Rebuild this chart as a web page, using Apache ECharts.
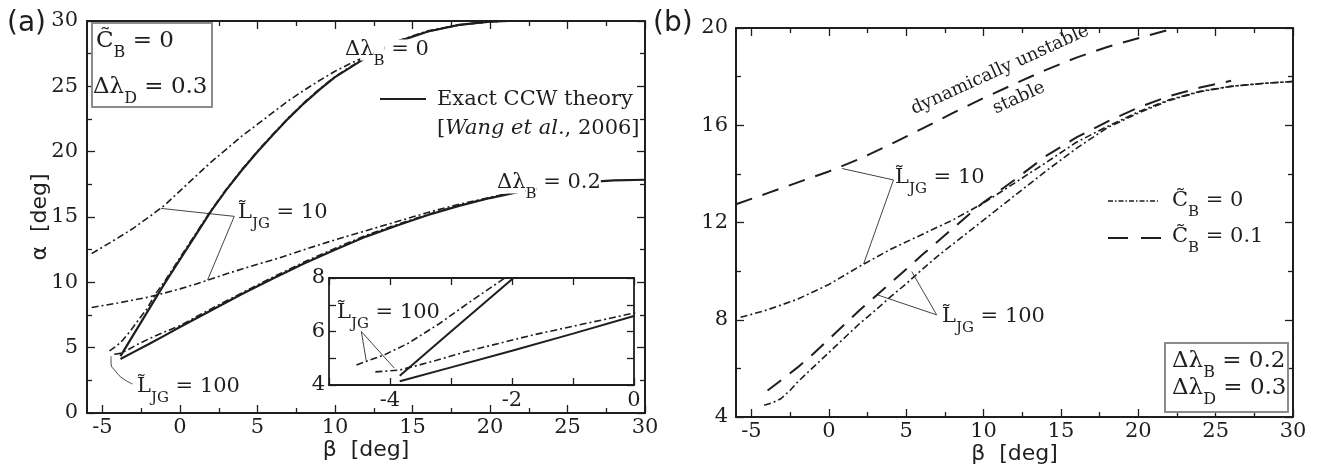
<!DOCTYPE html>
<html lang="en">
<head>
<meta charset="UTF-8">
<title>Angle of attack vs. sideslip</title>
<script src="https://cdn.jsdelivr.net/npm/echarts@6/dist/echarts.min.js"></script>
<style>
  html, body { margin: 0; padding: 0; background: #fff; }
  #chart { width: 1320px; height: 475px; }
</style>
</head>
<body>
<div id="chart"></div>
<script>
// ---- panel (a): alpha vs beta, [beta, alpha] pairs ----
const aSolidB0 = [[-3.84,4.35],[-3,6.0],[-2,7.95],[-1,9.9],[0,11.75],[1,13.6],[2,15.45],[3,17.1],[4,18.6],[5,20.0],[6,21.3],[7,22.55],[8,23.7],[9,24.75],[10,25.7],[12,27.2],[14,28.4],[16,29.2],[18,29.7],[20,29.95],[21.2,30]];
const aModelB0L10 = [[-5.7,12.2],[-4,13.4],[-3,14.15],[-2,15.0],[-1,15.9],[0,17.0],[1,18.1],[2,19.2],[3,20.2],[4,21.2],[5,22.1],[6,23.0],[7,23.9],[8,24.7],[9,25.45],[10,26.15],[11,26.75],[12,27.3],[14,28.45],[16,29.25],[18,29.7],[20,29.95],[21.2,30]];
const aModelB0L100 = [[-4.55,4.75],[-4.1,5.12],[-3.7,5.56],[-3.2,6.28],[-2.65,7.17],[-2.15,7.95],[-1.5,9.25],[-1,10.05],[0,11.9],[1,13.7],[2,15.5],[3,17.15],[4,18.65],[5,20.05],[6,21.35],[7,22.6],[8,23.75],[9,24.8],[10,25.75],[12,27.25],[14,28.42],[16,29.2],[18,29.7],[20,29.95],[21.2,30]];
const aSolidB02 = [[-3.84,4.14],[-3,4.66],[-2,5.28],[-1,5.92],[0,6.58],[2,7.85],[4,9.1],[6,10.3],[8,11.45],[10,12.5],[12,13.5],[14,14.35],[16,15.15],[18,15.85],[20,16.45],[22,16.95],[24,17.35],[26,17.65],[28,17.8],[30,17.85]];
const aModelB02L100 = [[-4.24,4.49],[-3.84,4.56],[-3.3,4.88],[-2.75,5.25],[-1.66,5.87],[0,6.69],[2,7.97],[4,9.2],[6,10.4],[8,11.55],[10,12.6],[12,13.6],[14,14.42],[16,15.2],[18,15.88],[20,16.47],[21,16.72]];
const aModelB02L10 = [[-5.7,8.08],[-4,8.42],[-3,8.65],[-2,8.88],[-1,9.18],[0,9.5],[1,9.86],[2,10.25],[3,10.65],[4,11.02],[5,11.38],[6,11.72],[7,12.1],[8,12.5],[9,12.88],[10,13.25],[12,13.95],[14,14.65],[16,15.35],[18,15.97],[20,16.5],[21,16.75]];
const aPointer10 = [[-1.23,15.66],[3.5,15.05],[1.78,10.18]];
const aPointer100 = [[-4.45,4.35],[-4.45,3.8],[-4.13,3.16],[-3.7,2.65],[-3.06,2.22]];
const insetPointer100 = [[-4.39,4.91],[-4.47,6.0],[-3.93,4.63]];

// ---- panel (b) ----
const bL10Cb0 = [[-5.7,8.1],[-4,8.4],[-2,8.85],[0,9.45],[2,10.2],[4,10.9],[6,11.5],[8,12.1],[10,12.8],[12,13.62],[14,14.45],[16,15.3],[18,15.95],[20,16.55],[22,17.05],[24,17.4],[26,17.6],[28,17.72],[30,17.8]];
const bL100Cb0 = [[-4.18,4.48],[-3.6,4.6],[-3.1,4.75],[-2.5,5.1],[-2,5.45],[-1,6.05],[0,6.65],[1,7.25],[2,7.85],[3,8.38],[4,8.95],[5,9.48],[6,10.05],[7,10.6],[8,11.1],[9,11.6],[10,12.1],[12,13.1],[14,14.1],[16,15.05],[18,15.9],[20,16.5],[22,17.02],[24,17.38],[26,17.6],[28,17.72],[30,17.8]];
const bL10Cb01 = [[-6,12.75],[-4,13.2],[-2,13.65],[0,14.1],[2,14.62],[4,15.22],[6,15.85],[8,16.5],[10,17.12],[12,17.7],[14,18.27],[16,18.78],[18,19.22],[20,19.58],[22,19.93],[22.5,20]];
const bL100Cb01 = [[-3.96,5.09],[-3,5.55],[-2,6.05],[-1,6.6],[0,7.2],[1,7.8],[2,8.4],[3,8.96],[4,9.52],[5,10.08],[6,10.65],[7,11.2],[8,11.75],[9,12.3],[10,12.83],[12,13.75],[14,14.72],[16,15.5],[18,16.15],[20,16.73],[22,17.2],[24,17.55],[26,17.83]];
const bPointer10 = [[0.86,14.22],[4.18,13.75],[2.25,10.3]];
const bPointer100 = [[3.11,9.03],[6.97,8.2],[5.36,9.98]];

// ---- ticks ----
const betaMajor = [-5,0,5,10,15,20,25,30];
const betaMinor = [-2.5,2.5,7.5,12.5,17.5,22.5,27.5];
const aAlphaMajor = [0,5,10,15,20,25,30];
const aAlphaMinor = [2.5,7.5,12.5,17.5,22.5,27.5];
const insetBetaTicks = [-5,-4,-3,-2,-1,0];
const insetBetaLabels = [-4,-2,0];
const insetAlphaTicks = [4,5,6,7,8];
const insetAlphaLabels = [4,6,8];
const bAlphaMajor = [4,8,12,16,20];
const bAlphaMinor = [6,10,14,18];

const ink = '#1e1e1e';
const SERIF = 'DejaVu Serif';
const SANS = 'DejaVu Sans';
const dashDot = [7, 3, 2, 3];
const dashed = [17, 11];
const f = (px, style) => (style ? style + ' ' : '') + px + 'px "' + SERIF + '"';

// four axes per side pair: near major, near minor, far major, far minor (no built-in labels)
function axisGroup(dim, grid, min, max, major, minor, extra) {
  const near = dim === 'x' ? 'bottom' : 'left';
  const far = dim === 'x' ? 'top' : 'right';
  const base = { type: 'value', gridIndex: grid, min: min, max: max, splitLine: { show: false }, silent: true, axisLabel: { show: false } };
  const lineOn = { show: true, onZero: false, lineStyle: { color: ink, width: extra.lineWidth || 2 } };
  const lineOff = { show: false, onZero: false };
  const tick = (vals, len) => ({ show: vals.length > 0, inside: true, length: len, customValues: vals, lineStyle: { color: ink, width: 1.3 } });
  return [
    Object.assign({}, base, extra.name || {}, { position: near, axisLine: lineOn, axisTick: tick(major, extra.tickLen || 8) }),
    Object.assign({}, base, { position: near, axisLine: lineOff, axisTick: tick(minor, 5) }),
    Object.assign({}, base, { position: far, axisLine: lineOn, axisTick: tick(major, extra.tickLen || 8) }),
    Object.assign({}, base, { position: far, axisLine: lineOff, axisTick: tick(minor, 5) })
  ];
}

const betaName = { name: 'β  [deg]', nameLocation: 'middle', nameGap: 26, nameMoveOverlap: false, nameTextStyle: { fontFamily: SANS, fontSize: 22, color: ink } };
const alphaName = { name: 'α  [deg]', nameLocation: 'middle', nameGap: 36, nameMoveOverlap: false, nameRotate: 90, nameTextStyle: { fontFamily: SANS, fontSize: 22, color: ink } };

const xAxes = [].concat(
  axisGroup('x', 0, -6, 30, betaMajor, betaMinor, { name: betaName }),
  axisGroup('x', 1, -5, 0, insetBetaTicks, [], { tickLen: 7, lineWidth: 1.8 }),
  axisGroup('x', 2, -6, 30, betaMajor, betaMinor, { name: betaName })
);
const yAxes = [].concat(
  axisGroup('y', 0, 0, 30, aAlphaMajor, aAlphaMinor, { name: alphaName }),
  axisGroup('y', 1, 4, 8, insetAlphaTicks, [], { tickLen: 7, lineWidth: 1.8 }),
  axisGroup('y', 2, 4, 20, bAlphaMajor, bAlphaMinor, {})
);

function curve(data, ax, type, width) {
  return {
    type: 'line', data: data, xAxisIndex: ax, yAxisIndex: ax, symbol: 'none',
    smooth: false, silent: true, z: 3,
    lineStyle: { color: ink, width: width, type: type }
  };
}
function pointer(data, ax, smooth) {
  return {
    type: 'line', data: data, xAxisIndex: ax, yAxisIndex: ax, symbol: 'none',
    smooth: smooth ? 0.5 : false, silent: true, z: 2,
    lineStyle: { color: '#444', width: 1 }
  };
}

const series = [
  curve(aSolidB0, 0, 'solid', 2.2),
  curve(aSolidB02, 0, 'solid', 2.2),
  curve(aModelB0L10, 0, dashDot, 1.6),
  curve(aModelB0L100, 0, dashDot, 1.6),
  curve(aModelB02L10, 0, dashDot, 1.6),
  curve(aModelB02L100, 0, dashDot, 1.6),
  pointer(aPointer10, 0),
  pointer(aPointer100, 0, true),
  curve(aSolidB0, 4, 'solid', 2),
  curve(aSolidB02, 4, 'solid', 2),
  curve(aModelB0L100, 4, dashDot, 1.6),
  curve(aModelB02L100, 4, dashDot, 1.6),
  pointer(insetPointer100, 4),
  curve(bL10Cb0, 8, dashDot, 1.6),
  curve(bL100Cb0, 8, dashDot, 1.6),
  curve(bL10Cb01, 8, dashed, 2),
  curve(bL100Cb01, 8, dashed, 2),
  pointer(bPointer10, 8),
  pointer(bPointer100, 8)
];

const W = '#fff';
const RICH = {
  m: { font: f(21), fill: ink },
  s: { font: f(15), fill: ink, padding: [22, 0, 0, 0] },
  M: { font: f(23), fill: ink },
  S: { font: f(16), fill: ink, padding: [24, 0, 0, 0] },
  mw: { font: f(21), fill: ink, backgroundColor: W },
  sw: { font: f(15), fill: ink, padding: [22, 0, 0, 0], backgroundColor: W },
  i: { font: f(21, 'italic'), fill: ink }
};
function txt(x, y, text, extra) {
  return {
    type: 'text', x: x, y: y, z: 100,
    style: Object.assign({ text: text, rich: RICH, font: f(21), fill: ink, textVerticalAlign: 'middle' }, extra || {})
  };
}
const rot = 24.4 * Math.PI / 180;

const graphic = [
  { type: 'text', x: 7, y: 24, z: 100, style: { text: '(a)', font: '28px "' + SANS + '"', fill: ink, textVerticalAlign: 'middle' } },
  { type: 'text', x: 653, y: 24, z: 100, style: { text: '(b)', font: '28px "' + SANS + '"', fill: ink, textVerticalAlign: 'middle' } },
  { type: 'rect', z: 90, shape: { x: 92, y: 23, width: 120, height: 84 }, style: { fill: W, stroke: '#8c8c8c', lineWidth: 2 } },
  txt(96, 41, '{M|C\u0303}{S|B}{M| = 0}'),
  txt(93, 87, '{M|Δλ}{S|D}{M| = 0.3}'),
  txt(345, 50, '{m|Δ}{mw|λ}{sw|B}{mw| = 0}'),
  txt(497, 183, '{mw|Δλ}{sw|B}{mw| = 0.2}'),
  { type: 'line', z: 100, shape: { x1: 380, y1: 99, x2: 426, y2: 99 }, style: { stroke: ink, lineWidth: 2.2 } },
  txt(437, 100, 'Exact CCW theory'),
  txt(437, 129, '{m|[}{i|Wang et al.}{m|, 2006]}'),
  txt(238, 213, '{m|L\u0303}{s|JG}{m| = 10}'),
  txt(137, 387, '{m|L\u0303}{s|JG}{m| = 100}'),
  txt(337, 313, '{m|L\u0303}{s|JG}{m| = 100}'),
  txt(895, 178, '{m|L\u0303}{s|JG}{m| = 10}'),
  txt(942, 317, '{m|L\u0303}{s|JG}{m| = 100}'),
  { type: 'text', x: 1000, y: 70, rotation: rot, z: 100, style: { text: 'dynamically unstable', font: f(18), fill: ink, textAlign: 'center', textVerticalAlign: 'middle' } },
  { type: 'text', x: 1019, y: 98, rotation: rot, z: 100, style: { text: 'stable', font: f(18), fill: ink, textAlign: 'center', textVerticalAlign: 'middle' } },
  { type: 'line', z: 100, shape: { x1: 1108, y1: 201, x2: 1158, y2: 201 }, style: { stroke: ink, lineWidth: 1.4, lineDash: [5, 2, 1.5, 2] } },
  txt(1172, 201, '{m|C\u0303}{s|B}{m| = 0}'),
  { type: 'line', z: 100, shape: { x1: 1108, y1: 238, x2: 1161, y2: 238 }, style: { stroke: ink, lineWidth: 2, lineDash: [20, 13] } },
  txt(1172, 237, '{m|C\u0303}{s|B}{m| = 0.1}'),
  { type: 'rect', z: 90, shape: { x: 1165, y: 343, width: 123, height: 69 }, style: { fill: W, stroke: '#8c8c8c', lineWidth: 2 } },
  txt(1172, 361, '{M|Δλ}{S|B}{M| = 0.2}'),
  txt(1172, 388, '{M|Δλ}{S|D}{M| = 0.3}')
];

const chart = echarts.init(document.getElementById('chart'), null, { renderer: 'canvas' });
chart.setOption({
  animation: false,
  backgroundColor: '#fff',
  grid: [
    { left: 87, top: 21, width: 558, height: 392 },
    { left: 329, top: 278, width: 305, height: 107, show: true, backgroundColor: '#fff', borderWidth: 0 },
    { left: 736, top: 28, width: 557, height: 389 }
  ],
  xAxis: xAxes,
  yAxis: yAxes,
  series: series
});

// tick labels placed through the axes' own scales, drawn in the serif face
function tickLabels(ax, xVals, yVals, xMin, yMin, gapX, gapY) {
  const out = [];
  const baseY = chart.convertToPixel({ yAxisIndex: ax }, yMin);
  const baseX = chart.convertToPixel({ xAxisIndex: ax }, xMin);
  xVals.forEach(v => out.push({
    type: 'text', z: 100, x: chart.convertToPixel({ xAxisIndex: ax }, v), y: baseY + gapY,
    style: { text: String(v), font: f(21), fill: ink, textAlign: 'center', textVerticalAlign: 'top' }
  }));
  yVals.forEach(v => out.push({
    type: 'text', z: 100, x: baseX - gapX, y: chart.convertToPixel({ yAxisIndex: ax }, v),
    style: { text: String(v), font: f(21), fill: ink, textAlign: 'right', textVerticalAlign: 'middle' }
  }));
  return out;
}

chart.setOption({
  graphic: graphic.concat(
    tickLabels(0, betaMajor, aAlphaMajor, -6, 0, 9, 4),
    tickLabels(4, insetBetaLabels, insetAlphaLabels, -5, 4, 4, 5),
    tickLabels(8, betaMajor, bAlphaMajor, -6, 4, 8, 4)
  )
});
</script>
</body>
</html>
